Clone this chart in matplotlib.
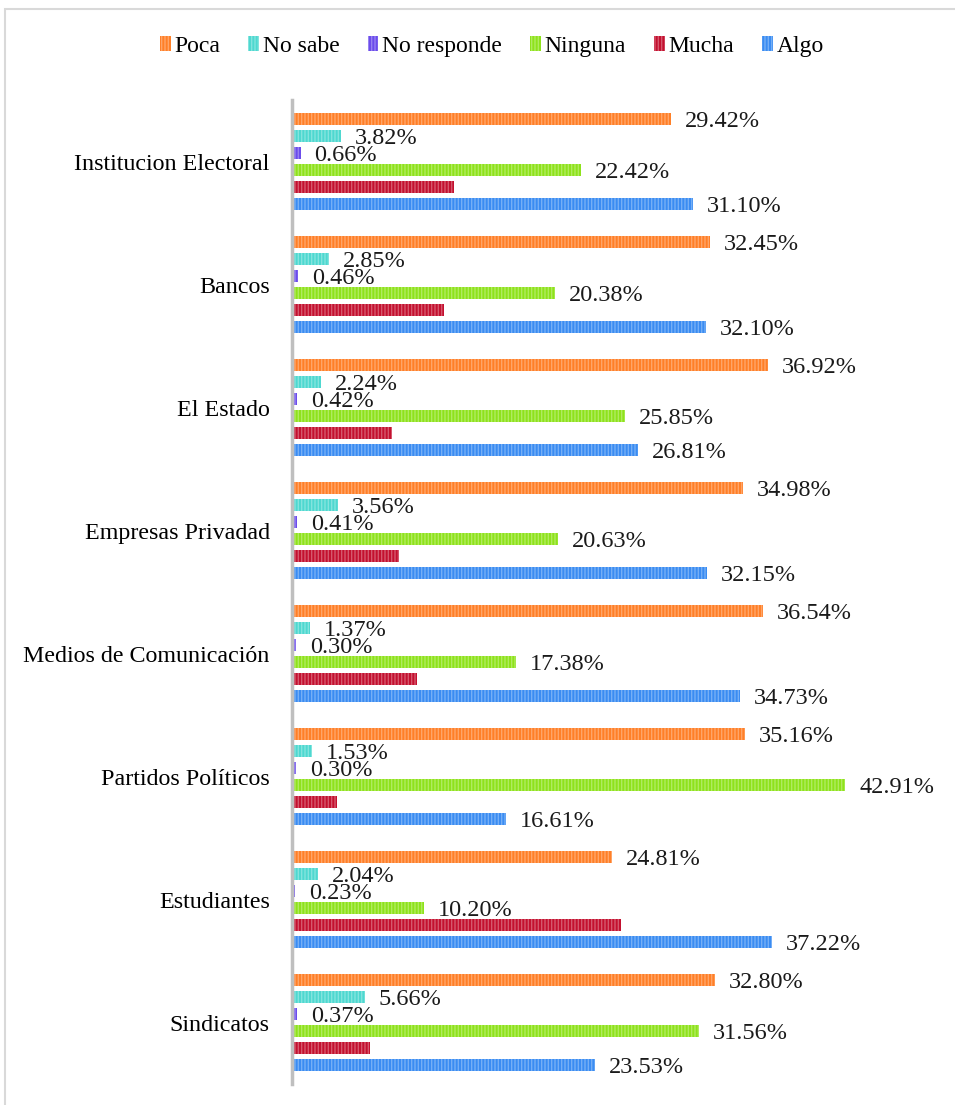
import matplotlib
matplotlib.use("Agg")
import matplotlib.pyplot as plt
import matplotlib.colors as mcolors
from matplotlib.patches import Rectangle

plt.rcParams['font.family'] = ['Liberation Serif', 'DejaVu Serif']
plt.rcParams['hatch.linewidth'] = 1.0

categories = ['Institucion Electoral', 'Bancos', 'El Estado', 'Empresas Privadad',
              'Medios de Comunicación', 'Partidos Políticos', 'Estudiantes', 'Sindicatos']

series = ['Poca', 'No sabe', 'No responde', 'Ninguna', 'Mucha', 'Algo']

poca = [29.42, 32.45, 36.92, 34.98, 36.54, 35.16, 24.81, 32.80]
no_sabe = [3.82, 2.85, 2.24, 3.56, 1.37, 1.53, 2.04, 5.66]
no_responde = [0.66, 0.46, 0.42, 0.41, 0.30, 0.30, 0.23, 0.37]
ninguna = [22.42, 20.38, 25.85, 20.63, 17.38, 42.91, 10.20, 31.56]
mucha = [12.58, 11.76, 7.76, 8.27, 9.68, 3.49, 25.50, 6.08]
algo = [31.10, 32.10, 26.81, 32.15, 34.73, 16.61, 37.22, 23.53]

values = [poca, no_sabe, no_responde, ninguna, mucha, algo]
show_labels = [True, True, True, True, False, True]
colors = ['#FF7F27', '#4ED8D0', '#6B4CEB', '#8EE21B', '#C3102F', '#3A8CF2']


def tint(c, f=0.3):
    r, g, b = mcolors.to_rgb(c)
    return (r + (1 - r) * f, g + (1 - g) * f, b + (1 - b) * f)


fig = plt.figure(figsize=(9.55, 11.05), dpi=100)
ax = fig.add_axes([0.3058, 0.019, 0.675, 0.8905])

step = 0.138
height = 0.1
handles = []
for j, (name, vals, col) in enumerate(zip(series, values, colors)):
    ys = [i + (j - 2.5) * step for i in range(len(categories))]
    bars = ax.barh(ys, vals, height=height, color=col, edgecolor=tint(col),
                   linewidth=0, hatch='|||||', label=name)
    handles.append(bars)
    if show_labels[j]:
        for y, v in zip(ys, vals):
            ax.annotate(f'{v:.2f}%', xy=(v, y), xytext=(10, -2), textcoords='offset points',
                        ha='left', va='center', fontsize=17.5, color='#1a1a1a')

ax.set_xlim(0, 50)
ax.set_ylim(7.5, -0.5)
ax.set_yticks(range(len(categories)))
ax.set_yticklabels(categories, fontsize=17.3)
ax.tick_params(axis='y', length=0, pad=16)
ax.set_xticks([])
for s in ['top', 'right', 'bottom']:
    ax.spines[s].set_visible(False)
ax.spines['left'].set_color('#BFBFBF')
ax.spines['left'].set_linewidth(2.5)

fig.legend(handles=handles, labels=series, loc='center', bbox_to_anchor=(0.515, 0.958),
           ncol=6, frameon=False, fontsize=17, handlelength=0.45, handleheight=0.6,
           handletextpad=0.15, columnspacing=1.2)

fig.patches.append(Rectangle((5 / 955, -0.01), 1.0, 1 - 9 / 1105 + 0.01,
                             transform=fig.transFigure, fill=False,
                             edgecolor='#D9D9D9', linewidth=1.5))

fig.savefig('out.png', dpi=100)
